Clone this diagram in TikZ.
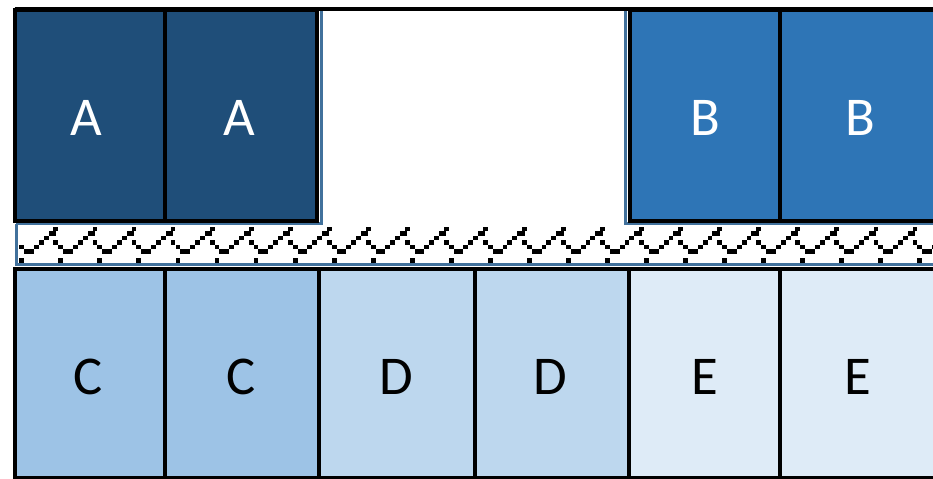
\documentclass[tikz,border=0pt]{standalone}
\usepackage{fontspec}
\setmainfont{Carlito}
\definecolor{cA}{HTML}{1F4E79}
\definecolor{cB}{HTML}{2E75B6}
\definecolor{cC}{HTML}{9DC3E6}
\definecolor{cD}{HTML}{BDD7EE}
\definecolor{cE}{HTML}{DEEBF7}
\definecolor{outl}{HTML}{41719C}
\tikzset{
  boxline/.style={draw=black, line width=3pt},
  blueline/.style={draw=outl, line width=2.1pt},
  labw/.style={text=white, font=\fontsize{41}{41}\selectfont, inner sep=0pt},
  labk/.style={text=black, font=\fontsize{41}{41}\selectfont, inner sep=0pt},
  zz/.style={fill=black}
}
\begin{document}
\begin{tikzpicture}[x=0.75pt,y=-0.75pt]
\useasboundingbox (0,0) rectangle (933,479);
\clip (0,0) rectangle (933,479);
\fill[white] (0,0) rectangle (933,479);
% patterned band
\begin{scope}
  \clip (17,225.5) rectangle (940,263);
  \foreach \k in {0,...,24}{
    \foreach \c/\r in {0/7,0/4,1/5,2/5,3/4,4/3,5/2,6/1,6.5/1,7/0,7/3}{
      \fill[zz] (19.3+39.05*\k+4.88*\c, 226.5+4.56*\r) rectangle ++(4.88,4.56);
    }
  }
\end{scope}
\draw[blueline] (16.5,224) -- (16.5,264.5) -- (945,264.5);
% group outlines behind A and B
\draw[blueline] (16,9) -- (321.5,9) -- (321.5,223.5) -- (16,223.5);
\draw[blueline] (945,223.5) -- (625.5,223.5) -- (625.5,9) -- (945,9);
% top row
\draw[boxline, fill=cA] (14.5,9.5) rectangle (164.5,220.5);
\draw[boxline, fill=cA] (164.5,9.5) rectangle (317,220.5);
\draw[boxline, fill=cB] (629.5,9.5) rectangle (780,220.5);
\draw[boxline, fill=cB] (780,9.5) rectangle (950,220.5);
\draw[line width=3pt] (14.5,9) -- (950,9);
\node[labw] (a1) at (86,118) {A};
\node[labw] (a2) at (239,118) {A};
\node[labw] (b1) at (705,118) {B};
\node[labw] (b2) at (860,118) {B};
% bottom row
\draw[boxline, fill=cC] (14.5,269) rectangle (164.5,477.5);
\draw[boxline, fill=cC] (164.5,269) rectangle (319,477.5);
\draw[boxline, fill=cD] (319,269) rectangle (475,477.5);
\draw[boxline, fill=cD] (475,269) rectangle (629,477.5);
\draw[boxline, fill=cE] (629,269) rectangle (780,477.5);
\draw[boxline, fill=cE] (780,269) rectangle (950,477.5);
\node[labk] (c1) at (88,377) {C};
\node[labk] (c2) at (241,377) {C};
\node[labk] (d1) at (396,377) {D};
\node[labk] (d2) at (550,377) {D};
\node[labk] (e1) at (705,377) {E};
\node[labk] (e2) at (858,377) {E};
\end{tikzpicture}
\end{document}
